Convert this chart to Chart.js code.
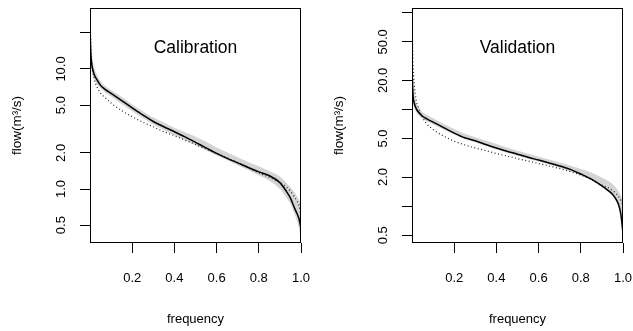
<!DOCTYPE html>
<html><head><meta charset="utf-8">
<script src="https://cdn.jsdelivr.net/npm/chart.js@4"></script>
<style>
html,body{margin:0;padding:0;background:#fff;}
#wrap{position:relative;width:633px;height:331px;overflow:hidden;}
canvas{position:absolute;top:0;}
#c1{left:0}
#c2{left:322px}
</style></head>
<body><div id="wrap"><canvas id="c1" width="311" height="331" style="width:311px;height:331px"></canvas><canvas id="c2" width="311" height="331" style="width:311px;height:331px"></canvas></div>
<script>
// exceedance frequency
const freq = [0, 0.002, 0.005, 0.01, 0.02, 0.03, 0.05, 0.07, 0.1, 0.15, 0.2, 0.25, 0.3, 0.35, 0.4, 0.45, 0.5, 0.55, 0.6, 0.65, 0.7, 0.75, 0.8, 0.85, 0.9, 0.93, 0.95, 0.97, 0.98, 0.99, 1.0];

// Calibration panel
const calSolid = [24, 16, 12.5, 10.5, 9.0, 8.3, 7.3, 6.8, 6.25, 5.45, 4.75, 4.15, 3.65, 3.3, 3.0, 2.72, 2.45, 2.2, 1.98, 1.8, 1.65, 1.51, 1.39, 1.29, 1.13, 0.96, 0.84, 0.69, 0.63, 0.57, 0.47];
const calDotted = [35, 22, 14, 10.5, 8.3, 7.3, 6.3, 5.8, 5.2, 4.5, 4.0, 3.6, 3.3, 3.0, 2.78, 2.56, 2.35, 2.15, 1.98, 1.82, 1.66, 1.5, 1.36, 1.25, 1.13, 1.04, 0.96, 0.85, 0.8, 0.74, 0.6];
const calUpper = [32, 22, 15, 12, 10, 9.0, 7.8, 7.2, 6.6, 5.8, 5.0, 4.4, 3.9, 3.55, 3.2, 2.95, 2.7, 2.45, 2.2, 2.0, 1.82, 1.66, 1.53, 1.4, 1.26, 1.12, 1.02, 0.92, 0.86, 0.8, 0.75];
const calLower = [18, 13, 10.5, 9.2, 8.2, 7.6, 6.9, 6.4, 5.9, 5.1, 4.45, 3.9, 3.45, 3.1, 2.8, 2.55, 2.32, 2.1, 1.9, 1.74, 1.58, 1.44, 1.3, 1.17, 1.0, 0.85, 0.75, 0.62, 0.55, 0.47, 0.36];

// Validation panel
const valSolid = [30, 20, 14, 11.8, 10.2, 9.4, 8.5, 8.0, 7.4, 6.5, 5.7, 5.1, 4.75, 4.35, 4.0, 3.7, 3.45, 3.2, 3.0, 2.8, 2.6, 2.4, 2.15, 1.9, 1.62, 1.45, 1.33, 1.15, 1.02, 0.82, 0.52];
const valDotted = [110, 60, 30, 19, 12.5, 10.5, 8.3, 7.1, 6.2, 5.3, 4.7, 4.3, 4.0, 3.75, 3.5, 3.3, 3.1, 2.93, 2.76, 2.6, 2.45, 2.28, 2.1, 1.88, 1.65, 1.55, 1.45, 1.33, 1.25, 1.15, 1.02];
const valUpper = [45, 28, 18, 14, 11.5, 10.5, 9.3, 8.7, 8.0, 7.0, 6.2, 5.55, 5.1, 4.7, 4.35, 4.0, 3.7, 3.45, 3.2, 3.0, 2.8, 2.6, 2.4, 2.2, 1.95, 1.8, 1.68, 1.5, 1.38, 1.25, 1.05];
const valLower = [25, 17, 12, 10.5, 9.4, 8.8, 8.0, 7.5, 7.0, 6.2, 5.5, 4.95, 4.55, 4.2, 3.85, 3.57, 3.33, 3.1, 2.9, 2.7, 2.5, 2.3, 2.08, 1.85, 1.57, 1.4, 1.28, 1.1, 0.98, 0.8, 0.5];

// axis ticks
const xTicks = [0.2, 0.4, 0.6, 0.8, 1.0];
const xTickLabels = ["0.2", "0.4", "0.6", "0.8", "1.0"];
const calYTicks = [0.5, 1, 2, 5, 10, 20];
const calYTickLabels = ["0.5", "1.0", "2.0", "5.0", "10.0", ""];
const valYTicks = [0.5, 1, 2, 5, 10, 20, 50, 100];
const valYTickLabels = ["0.5", "", "2.0", "5.0", "", "20.0", "50.0", ""];

const xTitle = "frequency";
const yTitle = "flow(m\u00B3/s)";
const FONT = "'Liberation Sans', Arial, Helvetica, sans-serif";

function pts(ys) { return freq.map((f, i) => ({x: f, y: ys[i]})); }

const boxPlugin = {
  id: 'box',
  afterDraw(chart, args, opts) {
    const {ctx, chartArea: a} = chart;
    ctx.save();
    ctx.strokeStyle = '#000';
    ctx.lineWidth = 1;
    ctx.strokeRect(Math.round(a.left) + 0.5, Math.round(a.top) + 0.5, Math.round(a.right - a.left) - 1, Math.round(a.bottom - a.top) - 1);
    ctx.font = "17.5px " + FONT;
    ctx.fillStyle = '#000';
    ctx.textAlign = 'center';
    ctx.textBaseline = 'middle';
    ctx.fillText(opts.text, (a.left + a.right) / 2, a.top + 40);
    ctx.restore();
  }
};

function makeChart(id, label, solid, dotted, lower, upper, yMin, yMax, yTicks, yLabels) {
  return new Chart(document.getElementById(id), {
    type: 'line',
    data: {
      datasets: [
        {data: pts(solid), borderColor: '#000', borderWidth: 1.5, pointRadius: 0, fill: false, cubicInterpolationMode: 'monotone'},
        {data: pts(dotted), borderColor: '#222', borderWidth: 1.2, borderDash: [1, 2.5], pointRadius: 0, fill: false, cubicInterpolationMode: 'monotone'},
        {data: pts(lower), borderColor: 'rgba(0,0,0,0)', borderWidth: 0, pointRadius: 0, fill: false, cubicInterpolationMode: 'monotone'},
        {data: pts(upper), borderColor: 'rgb(212,212,212)', borderWidth: 1, backgroundColor: 'rgb(212,212,212)', pointRadius: 0, fill: '-1', cubicInterpolationMode: 'monotone'}
      ]
    },
    options: {
      responsive: false,
      animation: false,
      devicePixelRatio: 1,
      layout: {padding: {top: 8, right: 10, left: 0, bottom: 0}},
      plugins: {legend: {display: false}, tooltip: {enabled: false}, box: {text: label}},
      scales: {
        x: {
          type: 'linear', min: 0, max: 1, bounds: 'data',
          afterBuildTicks: s => { s.ticks = xTicks.map(v => ({value: v})); },
          afterFit: s => { s.height = 88; s.paddingLeft = 0; s.paddingRight = 0; },
          grid: {drawOnChartArea: false, drawTicks: true, tickLength: 10, color: '#000', lineWidth: 1},
          border: {display: false},
          ticks: {autoSkip: false, maxRotation: 0, padding: 18, color: '#000', font: {family: FONT, size: 13},
                  callback: (v, i) => xTickLabels[i]},
          title: {display: true, text: xTitle, color: '#000', font: {family: FONT, size: 13}, padding: {top: 0, bottom: 4}}
        },
        y: {
          type: 'logarithmic', min: yMin, max: yMax, bounds: 'data',
          afterBuildTicks: s => { s.ticks = yTicks.map(v => ({value: v})); },
          afterFit: s => { s.width = 90; s.paddingTop = 0; s.paddingBottom = 0; },
          grid: {drawOnChartArea: false, drawTicks: true, tickLength: 10, color: '#000', lineWidth: 1},
          border: {display: false},
          ticks: {autoSkip: false, minRotation: 90, maxRotation: 90, crossAlign: 'center', padding: 6, color: '#000',
                  font: {family: FONT, size: 13}, callback: (v, i) => yLabels[i]},
          title: {display: true, text: yTitle, color: '#000', font: {family: FONT, size: 13.5}, padding: {top: 9, bottom: 0}}
        }
      }
    },
    plugins: [boxPlugin]
  });
}

makeChart('c1', 'Calibration', calSolid, calDotted, calLower, calUpper, 0.355, 32.2, calYTicks, calYTickLabels);
makeChart('c2', 'Validation', valSolid, valDotted, valLower, valUpper, 0.416, 112, valYTicks, valYTickLabels);
</script>
</body></html>
